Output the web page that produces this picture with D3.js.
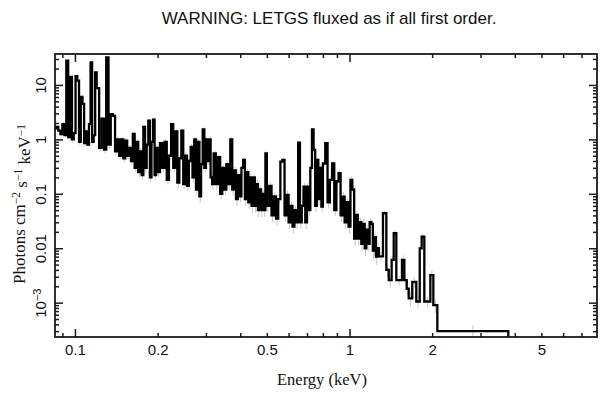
<!DOCTYPE html>
<html>
<head>
<meta charset="utf-8">
<script src="https://cdn.jsdelivr.net/npm/d3@7"></script>
<style>
  html, body { margin: 0; padding: 0; background: #fff; }
  svg { display: block; }
</style>
</head>
<body>
<div id="chart"></div>
<script>
// bin low edges (keV), the last bin ends at energyEnd
const energyLo = [
  0.0840,0.0855,0.0870,0.0885,0.0900,0.0915,0.0930,0.0945,0.0960,0.0975,0.0990,0.1005,
  0.1020,0.1035,0.1050,0.1065,0.1080,0.1095,0.1110,0.1125,0.1140,0.1155,0.1170,0.1185,
  0.1200,0.1225,0.1250,0.1275,0.1300,0.1325,0.1350,0.1375,0.1400,0.1425,0.1450,0.1475,
  0.1500,0.1525,0.1550,0.1575,0.1600,0.1625,0.1650,0.1675,0.1700,0.1725,0.1750,0.1775,
  0.1800,0.1825,0.1850,0.1875,0.1900,0.1925,0.1950,0.1975,
  0.200,0.204,0.208,0.212,0.216,0.220,0.224,0.228,0.232,0.236,0.240,0.244,0.248,0.252,
  0.256,0.260,0.264,0.268,0.272,0.276,0.280,0.284,0.288,0.292,0.296,0.300,0.304,0.308,
  0.312,0.316,
  0.320,0.326,0.332,0.338,0.344,0.350,0.356,0.362,0.368,0.374,0.380,0.386,0.392,0.398,
  0.404,0.410,0.416,0.422,0.428,0.434,0.440,0.446,0.452,0.458,0.464,0.470,0.476,0.482,
  0.488,0.494,
  0.50,0.51,0.52,0.53,0.54,0.55,0.56,0.57,0.58,0.59,0.60,0.61,0.62,0.63,0.64,0.65,0.66,
  0.67,0.68,0.69,0.70,0.71,0.72,0.73,0.74,0.75,0.76,0.77,0.78,0.79,
  0.800,0.816,0.832,0.848,0.864,0.880,0.896,0.912,0.928,0.944,0.960,0.976,0.992,1.008,
  1.024,1.040,1.056,1.072,1.088,1.104,1.120,1.136,1.152,1.168,1.184,1.200,1.216,1.232,
  1.248,1.264,
  1.280,1.324,1.362,1.390,1.424,1.449,1.481,1.553,1.584,1.616,1.643,1.693,1.751,1.802,
  1.832,1.873,1.970,2.020,2.089
];
const energyEnd = 3.788;

// photons cm^-2 s^-1 keV^-1
const flux = [
  1.6,1.7,1.45,1.25,1.9,1.2,28,1.1,14,1.0,1.3,14.5,12,0.9,6,4.5,0.85,1.4,0.8,1.9,26,0.9,1.2,17,
  8.7,0.7,2.4,0.65,32,0.8,2.9,2.7,0.6,1.0,0.5,1.0,0.45,0.95,0.5,0.7,0.4,1.26,0.3,0.9,0.25,0.6,
  0.22,1.7,0.3,0.8,2.2,0.2,0.9,2.3,0.22,0.7,
  0.25,0.85,0.3,0.9,0.18,0.5,1.9,0.3,1.4,0.16,0.45,1.45,0.15,0.5,0.14,0.4,0.73,0.2,1.0,0.12,
  0.9,0.09,0.35,1.53,0.3,1.0,0.4,1.0,0.2,0.15,
  0.55,0.15,0.47,0.1,0.3,0.12,0.35,0.15,1.0,0.12,0.27,0.08,0.22,0.09,0.3,0.42,0.08,0.25,0.07,
  0.2,0.06,0.2,0.06,0.15,0.05,0.12,0.05,0.1,0.05,0.55,
  0.06,0.14,0.04,0.09,0.035,0.08,0.39,0.42,0.04,0.095,0.03,0.06,0.025,0.05,0.03,0.87,0.03,
  0.06,0.135,0.03,0.135,0.05,0.3,1.53,0.64,0.06,0.42,0.08,0.3,0.058,
  0.36,0.85,0.07,0.18,0.36,0.05,0.17,0.24,0.04,0.089,0.03,0.07,0.025,0.18,0.12,0.015,0.041,
  0.015,0.03,0.012,0.028,0.01,0.022,0.012,0.03,0.028,0.009,0.016,0.007,0.01,
  0.0071,0.044,0.004,0.0026,0.0061,0.019,0.0026,0.0061,0.0026,0.0018,0.0012,0.0024,0.00105,
  0.0099,0.0163,0.00105,0.0032,0.0009,0.0003
];

// relative 1-sigma errors
const fluxErrFrac = [
  0.08,0.08,0.08,0.1,0.1,0.1,0.03,0.1,0.04,0.12,0.1,0.04,0.04,0.12,0.06,0.06,0.12,0.1,0.12,0.1,
  0.03,0.12,0.1,0.04,
  0.05,0.15,0.1,0.15,0.03,0.15,0.08,0.08,0.15,0.12,0.15,0.12,0.15,0.12,0.15,0.12,0.15,0.1,
  0.15,0.12,0.18,0.15,0.18,0.08,0.18,0.12,0.08,0.18,0.12,0.08,0.18,0.15,
  0.18,0.12,0.18,0.12,0.18,0.15,0.08,0.18,0.1,0.2,0.15,0.1,0.2,0.15,0.2,0.15,0.12,0.2,0.12,
  0.22,0.12,0.25,0.18,0.1,0.18,0.12,0.15,0.12,0.2,0.2,
  0.12,0.2,0.12,0.22,0.15,0.22,0.15,0.2,0.1,0.22,0.15,0.25,0.18,0.22,0.15,0.12,0.25,0.15,
  0.25,0.18,0.25,0.18,0.25,0.2,0.25,0.2,0.25,0.2,0.25,0.1,
  0.22,0.18,0.25,0.2,0.25,0.2,0.1,0.1,0.25,0.2,0.25,0.22,0.25,0.22,0.25,0.08,0.25,0.22,0.18,
  0.25,0.18,0.22,0.12,0.06,0.1,0.22,0.12,0.22,0.15,0.22,
  0.12,0.08,0.22,0.15,0.12,0.22,0.15,0.15,0.25,0.2,0.25,0.22,0.25,0.15,0.15,0.28,0.2,0.28,
  0.22,0.28,0.22,0.28,0.22,0.28,0.22,0.22,0.28,0.22,0.3,0.25,
  0.2,0.1,0.25,0.28,0.22,0.12,0.2,0.22,0.25,0.25,0.28,0.22,0.28,0.15,0.12,0.22,0.22,0.28,0.3
];

const xLabelTicks = [0.1, 0.2, 0.5, 1, 2, 5];
const xMajorTicks = [0.1, 1];
const xMinorTicks = [0.09, 0.2, 0.3, 0.4, 0.5, 0.6, 0.7, 0.8, 0.9, 2, 3, 4, 5, 6, 7];
const yMajorTicks = [0.001, 0.01, 0.1, 1, 10];
const yTickLabels = ["10|\u22123", "0.01", "0.1", "1", "10"];
const yDecades = [1e-4, 1e-3, 1e-2, 0.1, 1, 10];
const yMinorSteps = [2, 3, 4, 5, 6, 7, 8, 9];

const titleText = "WARNING: LETGS fluxed as if all first order.";
const xTitle = "Energy (keV)";

const width = 608, height = 399;
const sans = "'Liberation Sans', Arial, Helvetica, sans-serif";
const serif = "'Liberation Serif', 'Times New Roman', Times, serif";

const x = d3.scaleLog().domain([0.0846, 7.97]).range([55, 597]);
const y = d3.scaleLog().domain([2.34e-4, 37]).range([337, 54]);
const [xl, xr] = x.range();
const [yb, yt] = y.range();

const yMinorTicks = [];
yDecades.forEach(dec => yMinorSteps.forEach(m => {
  const v = dec * m;
  if (v > y.domain()[0] && v < y.domain()[1]) yMinorTicks.push(v);
}));

const svg = (d3.select("#chart").append("svg")
             .attr("width", width)
             .attr("height", height)
             .attr("viewBox", [0, 0, width, height]));

svg.append("clipPath").attr("id", "plotclip")
  .append("rect")
  .attr("x", xl).attr("y", yt)
  .attr("width", xr - xl).attr("height", yb - yt);

const bins = energyLo.map((lo, i) => ({
  lo: lo,
  hi: i < energyLo.length - 1 ? energyLo[i + 1] : energyEnd,
  v: flux[i],
  e: fluxErrFrac[i]
}));

const plot = svg.append("g").attr("clip-path", "url(#plotclip)");

// error bars
plot.append("g")
  .attr("stroke", "#c8c8c8")
  .attr("stroke-width", 1)
  .selectAll("line")
  .data(bins)
  .join("line")
  .attr("x1", d => x(Math.sqrt(d.lo * d.hi)))
  .attr("x2", d => x(Math.sqrt(d.lo * d.hi)))
  .attr("y1", d => y(d.v * (1 + d.e)))
  .attr("y2", d => y(Math.max(d.v * (1 - d.e), 1e-6)));

// histogram
const pts = [];
bins.forEach(d => { pts.push([d.lo, d.v], [d.hi, d.v]); });
pts.push([energyEnd, 1e-6]);

plot.append("path")
  .datum(pts)
  .attr("fill", "none")
  .attr("stroke", "#000")
  .attr("stroke-width", 2.3)
  .attr("stroke-linejoin", "miter")
  .attr("d", d3.line().x(d => x(d[0])).y(d => y(d[1])));

// ticks on all four sides, pointing in
function tickRow(axis, transform, values, size) {
  svg.append("g")
    .attr("transform", transform)
    .attr("color", "#1a1a1a")
    .attr("stroke-width", 1.5)
    .call(axis.tickValues(values).tickSize(-size).tickFormat(""))
    .call(g => g.select(".domain").remove());
}
[[xMajorTicks, 8], [xMinorTicks, 4]].forEach(([vals, s]) => {
  tickRow(d3.axisBottom(x), `translate(0,${yb})`, vals, s);
  tickRow(d3.axisTop(x), `translate(0,${yt})`, vals, s);
});
[[yMajorTicks, 8], [yMinorTicks, 4]].forEach(([vals, s]) => {
  tickRow(d3.axisLeft(y), `translate(${xl},0)`, vals, s);
  tickRow(d3.axisRight(y), `translate(${xr},0)`, vals, s);
});

svg.append("rect")
  .attr("x", xl).attr("y", yt)
  .attr("width", xr - xl).attr("height", yb - yt)
  .attr("fill", "none")
  .attr("stroke", "#1a1a1a")
  .attr("stroke-width", 1.8);

// tick labels
svg.append("g")
  .attr("transform", `translate(0,${yb})`)
  .call(d3.axisBottom(x).tickValues(xLabelTicks).tickSize(0).tickPadding(7).tickFormat(d => String(d)))
  .call(g => g.select(".domain").remove())
  .call(g => g.selectAll("text")
    .attr("font-family", sans)
    .attr("font-size", 15)
    .attr("fill", "#111"));

svg.append("g")
  .attr("transform", `translate(${xl},0)`)
  .call(d3.axisLeft(y).tickValues(yMajorTicks).tickSize(0).tickFormat(""))
  .call(g => g.select(".domain").remove())
  .call(g => g.selectAll("text")
    .attr("x", 0).attr("y", 0).attr("dy", 0)
    .attr("transform", "translate(-9,0) rotate(-90)")
    .attr("text-anchor", "middle")
    .attr("font-family", sans)
    .attr("font-size", 15)
    .attr("fill", "#111")
    .each(function(d, i) {
      const parts = yTickLabels[i].split("|");
      const t = d3.select(this);
      t.append("tspan").text(parts[0]);
      if (parts[1]) {
        t.append("tspan").attr("dy", "-0.5em").attr("font-size", 11).text(parts[1]);
      }
    }));

// titles
svg.append("text")
  .attr("x", 329).attr("y", 23.5)
  .attr("text-anchor", "middle")
  .attr("font-family", sans)
  .attr("font-size", 17)
  .attr("fill", "#111")
  .text(titleText);

svg.append("text")
  .attr("x", 322).attr("y", 385)
  .attr("text-anchor", "middle")
  .attr("font-family", serif)
  .attr("font-size", 16.5)
  .attr("fill", "#111")
  .text(xTitle);

const yt_ = svg.append("text")
  .attr("transform", "translate(25,204) rotate(-90)")
  .attr("text-anchor", "middle")
  .attr("font-family", serif)
  .attr("font-size", 17)
  .attr("fill", "#111");
[["Photons cm", ""], ["\u22122", "sup"], [" s", ""], ["\u22121", "sup"], [" keV", ""], ["\u22121", "sup"]]
  .forEach(([txt, kind], i, arr) => {
    const ts = yt_.append("tspan").text(txt);
    if (kind === "sup") {
      ts.attr("dy", "-0.45em").attr("font-size", 11.5);
    } else if (i > 0 && arr[i - 1][1] === "sup") {
      ts.attr("dy", "0.45em");
    }
  });
</script>
</body>
</html>
